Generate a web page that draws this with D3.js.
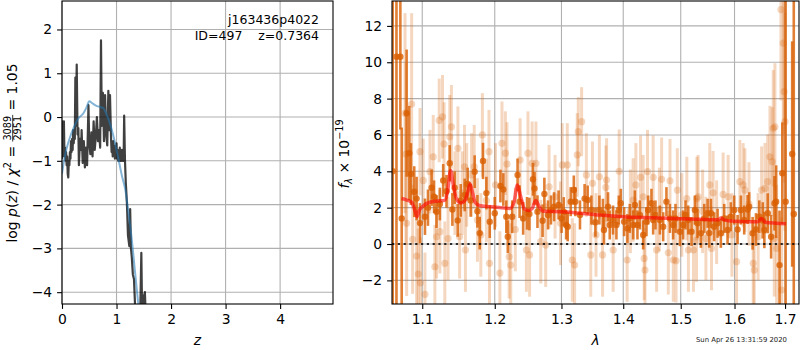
<!DOCTYPE html>
<meta charset="utf-8" />
<style>
  body { margin: 0; background: #fff; }
  svg { font-family: "DejaVu Sans", sans-serif; }
  text { white-space: pre; }
</style>
<svg width="800" height="350"></svg>
<script src="https://d3js.org/d3.v7.min.js"></script>
<script>
    var svg = d3.select("svg");

    // ---- left panel: p(z) ----
    var pzXTicks = [0, 1, 2, 3, 4];
    var pzYTicks = [-4, -3, -2, -1, 0, 1, 2];

    // noisy log p(z), dark line
    var pzZ = [0.00, 0.005, 0.01, 0.02, 0.03, 0.035, 0.045, 0.055, 0.065, 0.075, 0.085, 0.095, 0.105, 0.115,
        0.125, 0.135, 0.145, 0.155, 0.165, 0.175, 0.185, 0.195, 0.205, 0.215, 0.225, 0.235,
        0.245, 0.255, 0.27, 0.285, 0.30, 0.31, 0.33, 0.35, 0.36, 0.38, 0.40, 0.42, 0.44, 0.46, 0.475,
        0.485, 0.50, 0.52, 0.54, 0.56, 0.58, 0.60, 0.62, 0.64, 0.66, 0.68, 0.70, 0.715, 0.73, 0.75,
        0.77, 0.79, 0.81, 0.83, 0.85, 0.865, 0.88, 0.90, 0.91, 0.92, 0.93, 0.94, 0.95, 0.96, 0.97,
        0.98, 0.99, 1.00, 1.01, 1.02, 1.03, 1.04, 1.05, 1.06, 1.07, 1.08, 1.09, 1.10, 1.11, 1.12, 1.13,
        1.14, 1.155, 1.17, 1.19, 1.21, 1.235, 1.25, 1.265, 1.28, 1.30, 1.32,
        1.34, 1.37, 1.40, 1.43, 1.455, 1.47, 1.50, 1.52, 1.54, 1.56];
    var pzLogp = [-0.95, -0.1, -0.9, -0.15, -0.85, -0.1, -0.9, -0.7, -1.0, -0.8, -1.1, -0.9, -1.3, -1.38,
        -1.0, -1.1, -0.8, -0.95, -0.55, -0.8, -0.5, -0.75, -0.3, -0.6, -0.35, -0.5,
        0.9, -0.2, 1.2, -0.4, -0.25, -1.1, -0.5, -0.75, -0.3, -1.05, -0.55, -1.15, -0.7, -1.1, -0.3,
        0.27, -0.6, -0.85, -0.35, -0.9, -0.1, -0.75, -0.45, 0.0, -0.55, -0.3, -0.7, 1.75, -0.2, 0.55,
        -0.55, 0.5, -0.4, -0.65, 0.6, -0.3, 0.5, -0.5, -0.8, -0.6, -0.9, -0.55, -0.85, -0.65, -0.95,
        -0.7, -0.85, -0.6, -0.95, -0.75, -1.0, -0.8, -1.0, -0.7, -1.0, -0.85, -1.0, -0.75, -1.0, -0.9, -1.0,
        0.03, -1.0, -1.5, -1.95, -2.7, -2.95, -2.1, -3.0, -3.2, -3.6, -3.7,
        -4.3, -4.6, -4.4, -4.8, -3.1, -4.6, -4.1, -4.0, -4.7, -5.5];

    // smooth prior-weighted curve
    var smoothZ = [0.0, 0.03, 0.06, 0.1, 0.15, 0.21, 0.3, 0.39, 0.45, 0.5, 0.55, 0.64, 0.7, 0.76, 0.82,
        0.88, 0.94, 1.0, 1.05, 1.1, 1.16, 1.22, 1.28, 1.34, 1.39, 1.45];
    var smoothLogp = [-1.3, -1.05, -0.85, -0.65, -0.45, -0.26, -0.03, 0.08, 0.22, 0.36, 0.32, 0.25, 0.23, 0.2, 0.05,
        -0.15, -0.42, -0.75, -1.05, -1.35, -1.65, -2.2, -2.8, -3.55, -4.16, -4.9];

    // ---- right panel: spectrum ----
    var specXTicks = [1.1, 1.2, 1.3, 1.4, 1.5, 1.6, 1.7];
    var specYTicks = [-2, 0, 2, 4, 6, 8, 10, 12];

    var darkWave = [1.0617, 1.0665, 1.0715, 1.0732, 1.0796, 1.0830, 1.0852, 1.0895, 1.0926, 1.0970,
        1.1036, 1.1076, 1.1124, 1.1157, 1.1190, 1.1235, 1.1280, 1.1325, 1.1369, 1.1405,
        1.1436, 1.1478, 1.1520, 1.1575, 1.1616, 1.1658, 1.1714, 1.1753, 1.1785, 1.1832,
        1.1880, 1.1928, 1.2000, 1.2082, 1.2124, 1.2167, 1.2189, 1.2254, 1.2333, 1.2363,
        1.2416, 1.2474, 1.2509, 1.2563, 1.2586, 1.2631, 1.2709, 1.2736, 1.2792, 1.2837,
        1.2885, 1.2955, 1.3002, 1.3035, 1.3073, 1.3098, 1.3145, 1.3194, 1.3218, 1.3292,
        1.3366, 1.3415, 1.3475, 1.3540, 1.3605, 1.3663, 1.3680, 1.3747, 1.3775, 1.3830,
        1.3886, 1.3926, 1.3959, 1.4015, 1.4071, 1.4111, 1.4168, 1.4197, 1.4241, 1.4282,
        1.4339, 1.4396, 1.4425, 1.4482, 1.4512, 1.4552, 1.4629, 1.4687, 1.4745, 1.4806,
        1.4864, 1.4906, 1.4985, 1.5044, 1.5086, 1.5135, 1.5195, 1.5257, 1.5305, 1.5368,
        1.5429, 1.5492, 1.5521, 1.5553, 1.5614, 1.5678, 1.5740, 1.5803, 1.5867, 1.5930,
        1.5994, 1.6059, 1.6123, 1.6187, 1.6253, 1.6284, 1.6351, 1.6417, 1.6483, 1.6551,
        1.6583, 1.6651, 1.6718, 1.6786, 1.6820, 1.6888, 1.6944, 1.7012, 1.7146, 1.7179];
    var darkFlux = [4.0, 10.3, 10.3, 1.41, 7.2, 5.0, 3.85, 2.88, 2.5, 1.15,
        1.5, 2.0, 3.1, 2.6, 1.78, 2.2, 3.5, 2.9, 4.44, 1.9,
        3.1, 1.3, 2.4, 2.7, 3.3, 2.4, 3.98, 1.8, 0.6, 4.57,
        2.8, 1.23, 1.69, 3.19, 3.0, 1.5, 0.4, 1.5, 3.8, 2.33,
        1.41, 1.69, 1.65, 3.56, 3.06, 1.78, 1.28, 2.75, 1.6, 1.87,
        2.05, 2.15, 1.41, 1.78, 1.05, 0.95, 2.33, 2.97, 2.33, 1.6,
        2.5, 2.42, 1.87, 1.2, 1.87, 1.69, 0.77, 2.05, 1.05, 1.32,
        1.05, 1.87, 2.24, 1.23, 0.86, 1.41, 1.05, 2.15, 1.05, 1.6,
        0.5, 1.23, 1.87, 2.24, 1.32, 1.6, 1.32, 0.95, 2.33, 1.41,
        1.05, 1.41, 0.68, 1.05, 1.6, 1.32, 0.68, 1.87, 1.14, 0.59,
        1.41, 1.69, 0.6, 1.69, 0.95, 1.14, 0.59, 1.41, 0.77, 1.5,
        1.87, 0.8, 1.87, 1.32, 1.9, 2.05, 0.59, 0.8, 1.5, 1.3,
        0.77, 1.69, 0.4, 2.24, 2.33, -1.16, 3.89, 2.33, 4.95, 1.65];
    var darkErr = [20, 20, 4, 5, 3.5, 2.6, 1.7, 1.4, 1.2, 1.1,
        1.0, 1.0, 1.0, 0.9, 0.9, 0.9, 0.9, 0.9, 1.0, 0.9,
        0.9, 0.9, 0.9, 0.9, 0.9, 0.9, 0.9, 0.9, 0.9, 1.0,
        0.9, 0.9, 0.9, 0.9, 0.9, 0.9, 0.9, 0.9, 0.9, 0.9,
        0.9, 0.9, 0.9, 0.9, 0.9, 0.9, 0.9, 0.9, 0.8, 0.8,
        0.8, 0.8, 0.8, 0.8, 0.8, 0.8, 0.8, 0.8, 0.8, 0.8,
        0.8, 0.8, 0.8, 0.8, 0.8, 0.8, 0.8, 0.8, 0.8, 0.8,
        0.8, 0.8, 0.8, 0.8, 0.8, 0.8, 0.8, 0.8, 0.8, 0.8,
        0.8, 0.8, 0.8, 0.8, 0.8, 0.8, 0.8, 0.8, 0.8, 0.8,
        0.8, 0.8, 0.8, 0.8, 0.8, 0.8, 0.8, 0.8, 0.8, 0.8,
        0.8, 0.8, 0.8, 0.8, 0.8, 0.8, 0.8, 0.8, 0.8, 0.8,
        0.8, 0.8, 0.8, 0.8, 0.8, 0.8, 0.9, 0.9, 0.9, 1.0,
        1.0, 1.1, 1.2, 1.5, 2.0, 3.0, 2.8, 16, 6.2, 16];

    var lightWave = [1.0775, 1.0787, 1.0796, 1.0861, 1.0874, 1.0926, 1.0947, 1.0970, 1.0976, 1.1013,
        1.1036, 1.1102, 1.1146, 1.1168, 1.1190, 1.1226, 1.1235, 1.1271, 1.1292, 1.1302,
        1.1346, 1.1369, 1.1392, 1.1440, 1.1481, 1.1504, 1.1540, 1.1572, 1.1585, 1.1603,
        1.1671, 1.1708, 1.1753, 1.1801, 1.1823, 1.1880, 1.1917, 1.1924, 1.2011, 1.2074,
        1.2104, 1.2154, 1.2177, 1.2209, 1.2232, 1.2300, 1.2371, 1.2464, 1.2488, 1.2512,
        1.2550, 1.2608, 1.2681, 1.2756, 1.2808, 1.2900, 1.2985, 1.3012, 1.3091, 1.3170,
        1.3207, 1.3249, 1.3265, 1.3318, 1.3394, 1.3465, 1.3493, 1.3550, 1.3605, 1.3657,
        1.3712, 1.3723, 1.3832, 1.3932, 1.4066, 1.4120, 1.4168, 1.4214, 1.4294, 1.4339,
        1.4356, 1.4370, 1.4414, 1.4512, 1.4572, 1.4620, 1.4660, 1.4778, 1.4808, 1.4867,
        1.4916, 1.4939, 1.5020, 1.5110, 1.5139, 1.5231, 1.5286, 1.5294, 1.5316, 1.5400,
        1.5460, 1.5532, 1.5564, 1.5594, 1.5660, 1.5783, 1.5878, 1.5950, 1.6039, 1.6103,
        1.6167, 1.6200, 1.6280, 1.6363, 1.6383, 1.6460, 1.6529, 1.6595, 1.6649, 1.6695,
        1.6741, 1.6761, 1.6781, 1.6795, 1.6829, 1.6917, 1.6931, 1.6964, 1.6980, 1.6998];
    var lightFlux = [7.2, 4.95, 1.14, 7.7, 0.26, -0.66, -1.65, 5.08, -2.13, 3.5,
        -2.77, 3.98, 4.8, -1.25, 0.4, 6.8, 0.68, 7.0, 5.5, -1.06,
        0.3, 5.9, 6.45, 2.8, 5.27, 0.4, 2.8, 4.25, -0.33, 3.25,
        3.8, 4.25, 1.32, 0.5, 6.0, 2.4, 5.08, -1.06, 3.25, -1.6,
        5.54, 5.0, 4.4, -0.7, -1.16, 0.8, 4.62, -0.33, 5.0, -0.6,
        4.44, 4.44, 0.13, -0.06, 3.15, 2.6, 1.14, 4.35, 4.35, -0.88,
        -1.16, 4.9, 6.18, 6.73, 3.8, -0.6, 3.34, 0.5, 3.7, -0.6,
        3.12, 3.52, -0.33, 4.0, -0.88, 1.8, 2.42, 3.25, 3.67, 2.6,
        -0.79, -1.43, 3.98, 3.67, -0.33, 1.9, 3.56, -0.48, 3.48, -0.88,
        -0.92, 2.97, 1.6, 2.5, -0.33, -0.33, 0.22, 2.5, 2.6, 1.8,
        0.3, 3.25, -0.24, 2.82, 1.2, 2.73, 2.6, 0.5, -0.97, 3.43,
        3.25, 2.97, 2.2, -1.06, -1.43, 0.4, 2.97, 3.06, 3.43, 4.8,
        4.53, 6.37, 0.31, 6.45, -0.24, 12.9, -2.53, 11.05, 8.38, 6.73];
    var lightErr = [5.5, 5, 4, 5, 3, 2.8, 2.5, 2.4, 2.5, 2.3,
        2.3, 2.3, 2.3, 2.3, 2.3, 2.3, 2.3, 2.3, 2.3, 2.3,
        2.3, 2.3, 2.3, 2.3, 2.3, 2.3, 2.3, 2.3, 2.3, 2.3,
        2.3, 2.3, 2.3, 2.3, 2.3, 2.3, 2.3, 2.3, 2.3, 2.3,
        2.3, 2.3, 2.3, 2.3, 2.3, 2.3, 2.3, 2.3, 2.3, 2.3,
        2.3, 2.3, 2.3, 2.3, 2.3, 2.3, 2.3, 2.3, 2.3, 2.3,
        2.3, 2.3, 1.9, 1.9, 2.3, 2.3, 2.3, 2.3, 2.3, 2.3,
        2.3, 2.3, 2.3, 2.3, 2.3, 2.3, 2.3, 2.3, 2.3, 2.3,
        2.3, 2.3, 2.3, 2.3, 2.3, 2.3, 2.3, 2.3, 2.3, 2.3,
        2.3, 2.3, 2.3, 2.3, 2.3, 2.3, 2.3, 2.3, 2.3, 2.3,
        2.3, 2.3, 2.3, 2.3, 2.3, 2.3, 2.3, 2.3, 2.3, 2.3,
        2.3, 2.3, 2.3, 2.4, 2.4, 2.4, 2.4, 2.5, 2.6, 2.8,
        3.0, 3.2, 3.2, 3.5, 3.5, 5, 4, 5, 5, 6];

    var modelWave = [1.073, 1.080, 1.086, 1.090, 1.093, 1.096, 1.100, 1.110, 1.125, 1.130,
        1.134, 1.138, 1.142, 1.146, 1.152, 1.158, 1.162, 1.165, 1.168, 1.172,
        1.178, 1.190, 1.210, 1.222, 1.228, 1.233, 1.238, 1.244, 1.250, 1.255,
        1.2605, 1.265, 1.272, 1.300, 1.358, 1.400, 1.450, 1.500, 1.537, 1.560,
        1.570, 1.574, 1.580, 1.600, 1.645, 1.652, 1.660, 1.702];
    var modelFlux = [2.5, 2.42, 2.3, 1.9, 1.5, 1.85, 2.05, 2.3, 2.38, 2.4,
        2.9, 4.05, 3.2, 2.5, 2.25, 2.4, 2.9, 3.3, 2.9, 2.3,
        2.12, 2.06, 2.0, 1.96, 2.3, 3.25, 2.6, 1.9, 1.85, 1.95,
        2.4, 2.1, 1.8, 1.78, 1.6, 1.5, 1.44, 1.39, 1.36, 1.33,
        1.34, 1.43, 1.33, 1.25, 1.22, 1.4, 1.2, 1.12];

    var grid = "#b0b0b0";
    var orange = "#d95f02";

    function frame(x0, y0, w, h) {
        svg.append("rect").attr("x", x0).attr("y", y0).attr("width", w).attr("height", h)
            .attr("fill", "none").attr("stroke", "black").attr("stroke-width", 1.1);
    }

    function styleAxis(g) {
        g.select(".domain").remove();
        g.selectAll(".tick line").attr("stroke", "black").attr("stroke-width", 1.1);
        g.selectAll(".tick text").attr("font-size", 13.9).attr("font-family", "DejaVu Sans").attr("fill", "black");
    }

    // ================= left panel =================
    var L = { x0: 62, x1: 333, y0: 1, y1: 304 };
    var zx = d3.scaleLinear().domain([0, 4.97]).range([L.x0, L.x1]);
    var zy = d3.scaleLinear().domain([-4.27, 2.65]).range([L.y1, L.y0]);

    svg.append("clipPath").attr("id", "clipL").append("rect")
        .attr("x", L.x0).attr("y", L.y0).attr("width", L.x1 - L.x0).attr("height", L.y1 - L.y0);

    var gridL = svg.append("g");
    gridL.selectAll(".gx").data(pzXTicks).enter().append("line")
        .attr("x1", function(d) { return zx(d); }).attr("x2", function(d) { return zx(d); })
        .attr("y1", L.y0).attr("y2", L.y1).attr("stroke", grid).attr("stroke-width", 1.1);
    gridL.selectAll(".gy").data(pzYTicks).enter().append("line")
        .attr("y1", function(d) { return zy(d); }).attr("y2", function(d) { return zy(d); })
        .attr("x1", L.x0).attr("x2", L.x1).attr("stroke", grid).attr("stroke-width", 1.1);

    var plotL = svg.append("g").attr("clip-path", "url(#clipL)");
    var pzLine = d3.line()
        .x(function(d, i) { return zx(pzZ[i]); })
        .y(function(d, i) { return zy(pzLogp[i]); });
    plotL.append("path").datum(pzZ).attr("d", pzLine)
        .attr("fill", "none").attr("stroke", "black").attr("stroke-opacity", 0.75)
        .attr("stroke-width", 2.2).attr("stroke-linejoin", "round");

    var smoothLine = d3.line()
        .x(function(d, i) { return zx(smoothZ[i]); })
        .y(function(d, i) { return zy(smoothLogp[i]); })
        .curve(d3.curveMonotoneX);
    plotL.append("path").datum(smoothZ).attr("d", smoothLine)
        .attr("fill", "none").attr("stroke", "#1f77b4").attr("stroke-opacity", 0.55)
        .attr("stroke-width", 2);

    frame(L.x0, L.y0, L.x1 - L.x0, L.y1 - L.y0);

    svg.append("g").attr("transform", "translate(0," + L.y1 + ")")
        .call(d3.axisBottom(zx).tickValues(pzXTicks).tickSize(4.9).tickPadding(4.9).tickFormat(d3.format("d")))
        .call(styleAxis);
    svg.append("g").attr("transform", "translate(" + L.x0 + ",0)")
        .call(d3.axisLeft(zy).tickValues(pzYTicks).tickSize(4.9).tickPadding(4.9).tickFormat(d3.format("d")))
        .call(styleAxis);

    svg.append("text").attr("x", 319).attr("y", 23.5).attr("text-anchor", "end")
        .attr("font-size", 12.5).text("j163436p4022");
    svg.append("text").attr("x", 319).attr("y", 40).attr("text-anchor", "end")
        .attr("font-size", 12.5).text("ID=497    z=0.7364");

    svg.append("text").attr("x", (L.x0 + L.x1) / 2).attr("y", 345).attr("text-anchor", "middle")
        .attr("font-size", 13.9).attr("font-style", "italic").text("z");

    // ================= right panel =================
    var R = { x0: 392, x1: 799, y0: 1, y1: 304 };
    var wx = d3.scaleLog().domain([1.0608, 1.7287]).range([R.x0, R.x1]);
    var fy = d3.scaleLinear().domain([-3.3, 13.37]).range([R.y1, R.y0]);

    svg.append("clipPath").attr("id", "clipR").append("rect")
        .attr("x", R.x0).attr("y", R.y0).attr("width", R.x1 - R.x0).attr("height", R.y1 - R.y0);

    var gridR = svg.append("g");
    gridR.selectAll(".gx").data(specXTicks).enter().append("line")
        .attr("x1", function(d) { return wx(d); }).attr("x2", function(d) { return wx(d); })
        .attr("y1", R.y0).attr("y2", R.y1).attr("stroke", grid).attr("stroke-width", 1.1);
    gridR.selectAll(".gy").data(specYTicks).enter().append("line")
        .attr("y1", function(d) { return fy(d); }).attr("y2", function(d) { return fy(d); })
        .attr("x1", R.x0).attr("x2", R.x1).attr("stroke", grid).attr("stroke-width", 1.1);

    var plotR = svg.append("g").attr("clip-path", "url(#clipR)");

    function errorbars(wave, flux, err, opacity, lw, r) {
        var g = plotR.append("g");
        var idx = d3.range(wave.length);
        g.selectAll("line").data(idx).enter().append("line")
            .attr("x1", function(i) { return wx(wave[i]); })
            .attr("x2", function(i) { return wx(wave[i]); })
            .attr("y1", function(i) { return fy(flux[i] - err[i]); })
            .attr("y2", function(i) { return fy(flux[i] + err[i]); })
            .attr("stroke", orange).attr("stroke-opacity", opacity).attr("stroke-width", lw);
        g.selectAll("circle").data(idx).enter().append("circle")
            .attr("cx", function(i) { return wx(wave[i]); })
            .attr("cy", function(i) { return fy(flux[i]); })
            .attr("r", r)
            .attr("fill", orange).attr("fill-opacity", opacity);
    }

    errorbars(lightWave, lightFlux, lightErr, 0.25, 3, 3.6);
    errorbars(darkWave, darkFlux, darkErr, 0.8, 2.6, 3.2);

    var modelLine = d3.line()
        .x(function(d, i) { return wx(modelWave[i]); })
        .y(function(d, i) { return fy(modelFlux[i]); })
        .curve(d3.curveMonotoneX);
    plotR.append("path").datum(modelWave).attr("d", modelLine)
        .attr("fill", "none").attr("stroke", "red").attr("stroke-opacity", 0.6)
        .attr("stroke-width", 3.5).attr("stroke-linejoin", "round");

    plotR.append("line").attr("x1", R.x0).attr("x2", R.x1)
        .attr("y1", fy(0)).attr("y2", fy(0))
        .attr("stroke", "black").attr("stroke-opacity", 0.8).attr("stroke-width", 2.2)
        .attr("stroke-dasharray", "2.2,3.6");

    frame(R.x0, R.y0, R.x1 - R.x0, R.y1 - R.y0);

    svg.append("g").attr("transform", "translate(0," + R.y1 + ")")
        .call(d3.axisBottom(wx).tickValues(specXTicks).tickSize(4.9).tickPadding(4.9).tickFormat(d3.format(".1f")))
        .call(styleAxis);
    svg.append("g").attr("transform", "translate(" + R.x0 + ",0)")
        .call(d3.axisLeft(fy).tickValues(specYTicks).tickSize(4.9).tickPadding(4.9).tickFormat(d3.format("d")))
        .call(styleAxis);

    svg.append("text").attr("x", (R.x0 + R.x1) / 2).attr("y", 345).attr("text-anchor", "middle")
        .attr("font-size", 13.9).attr("font-style", "italic").text("λ");

    svg.append("text").attr("x", 787).attr("y", 342).attr("text-anchor", "end")
        .attr("font-size", 6.9).attr("fill", "#222").text("Sun Apr 26 13:31:59 2020");

    // ---- rotated math labels ----
    function mathLabel(cx, cy, parts) {
        var g = svg.append("g").attr("transform", "translate(" + cx + "," + cy + ") rotate(-90)");
        var inner = g.append("g");
        var pos = 0;
        parts.forEach(function(p) {
            if (p.num) {
                var n = inner.append("text").attr("y", -5.5).attr("font-size", 9.7).attr("text-anchor", "middle").text(p.num);
                var d = inner.append("text").attr("y", 4.5).attr("font-size", 9.7).attr("text-anchor", "middle").text(p.den);
                var w = Math.max(n.node().getComputedTextLength(), d.node().getComputedTextLength()) + 2;
                n.attr("x", pos + w / 2);
                d.attr("x", pos + w / 2);
                inner.append("line").attr("x1", pos).attr("x2", pos + w)
                    .attr("y1", -3.8).attr("y2", -3.8).attr("stroke", "black").attr("stroke-width", 0.8);
                pos += w;
            } else {
                var t = inner.append("text").attr("x", pos).attr("y", p.dy || 0)
                    .attr("font-size", p.size || 13.9)
                    .attr("font-style", p.it ? "italic" : "normal")
                    .text(p.t);
                pos += t.node().getComputedTextLength();
            }
        });
        inner.attr("transform", "translate(" + (-pos / 2) + ",0)");
    }

    mathLabel(16.5, 153, [
        { t: "log " }, { t: "p", it: true }, { t: "(" }, { t: "z", it: true }, { t: ") / " },
        { t: "χ", it: true }, { t: "2", size: 9.7, dy: -6 }, { t: " = " },
        { num: "3089", den: "2951" }, { t: " = 1.05" }
    ]);

    mathLabel(349, 154, [
        { t: "f", it: true }, { t: "λ", it: true, size: 9.7, dy: 3 }, { t: " × 10" },
        { t: "−19", size: 9.7, dy: -6 }
    ]);
</script>
